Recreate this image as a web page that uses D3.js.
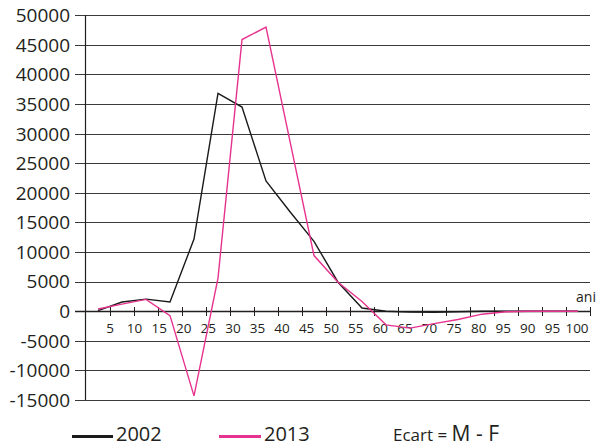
<!DOCTYPE html>
<html><head><meta charset="utf-8">
<script src="https://cdn.jsdelivr.net/npm/d3@7"></script>
<style>body{margin:0;background:#fff}svg{display:block}text{font-family:"Open Sans",sans-serif;fill:#231f20}</style>
</head><body>
<script>
const ageLabels = ["5","10","15","20","25","30","35","40","45","50","55","60","65","70","75","80","95","90","95","100"];
const groups = d3.range(21);
const s2002 = [100,1550,2050,1550,12200,36800,34500,22000,16800,11800,4900,550,0,-150,-200,-100,0,0,0,0,0];
const s2013 = [370,1200,2000,-750,-14300,5600,45900,48000,28700,9400,4900,1650,-2300,-2850,-2100,-1400,-500,-100,0,0,0];
const yTicks = [50000,45000,40000,35000,30000,25000,20000,15000,10000,5000,0,-5000,-10000,-15000];
const seriesNames = ["2002","2013"];
const colors = ["#1a1a1a","#e6338f"];

const W=598,H=447;
const svg=d3.select("body").append("svg").attr("width",W).attr("height",H);
const y=d3.scaleLinear().domain([-15000,50000]).range([400,15.3]);
const x=d3.scaleBand().domain(groups).range([86,590]).padding(0);
const xl=d3.scalePoint().domain(d3.range(ageLabels.length)).range([110,577]);

// gridlines
svg.append("g").selectAll("line").data(yTicks.filter(d=>d!==0)).join("line")
  .attr("x1",75).attr("x2",590).attr("y1",d=>Math.round(y(d))+0.5).attr("y2",d=>Math.round(y(d))+0.5)
  .attr("stroke","#3a3a3a").attr("stroke-width",1);
// y labels
svg.append("g").selectAll("text").data(yTicks).join("text")
  .attr("x",70).attr("y",d=>y(d)).attr("dy","0.36em").attr("text-anchor","end")
  .attr("font-size",19).text(d=>d);
// y axis
svg.append("line").attr("x1",85.5).attr("x2",85.5).attr("y1",y(50000)).attr("y2",y(-15000)).attr("stroke","#231f20").attr("stroke-width",1.2);
// zero axis
const y0=Math.round(y(0))+0.5;
svg.append("line").attr("x1",75).attr("x2",590).attr("y1",y0).attr("y2",y0).attr("stroke","#231f20").attr("stroke-width",1.3);
const bounds=groups.slice(1).map(i=>x(i)).concat([x.range()[1]]);
svg.append("g").selectAll("line").data(bounds).join("line")
  .attr("x1",d=>Math.round(d)+0.5).attr("x2",d=>Math.round(d)+0.5).attr("y1",y0-4.5).attr("y2",y0+4.5)
  .attr("stroke","#231f20").attr("stroke-width",1);
svg.append("g").selectAll("text").data(ageLabels).join("text")
  .attr("x",(d,i)=>xl(i)).attr("y",333).attr("text-anchor","middle").attr("font-size",13.5).text(d=>d);
svg.append("text").attr("x",596).attr("y",302).attr("text-anchor","end").attr("font-size",14).text("ani");

// lines
const line=d3.line().x((d,i)=>x(i)+x.bandwidth()/2).y(d=>y(d));
[s2002,s2013].forEach((s,k)=>{
  svg.append("path").datum(s).attr("d",line).attr("fill","none").attr("stroke",colors[k]).attr("stroke-width",1.4).attr("stroke-linejoin","miter");
});

// legend
const leg=[{x1:72,x2:113,tx:116},{x1:219,x2:261,tx:264}];
leg.forEach((l,k)=>{
  svg.append("line").attr("x1",l.x1).attr("x2",l.x2).attr("y1",436.5).attr("y2",436.5).attr("stroke",colors[k]).attr("stroke-width",3);
  svg.append("text").attr("x",l.tx).attr("y",441).attr("font-size",20).text(seriesNames[k]);
});
const et=svg.append("text").attr("x",393).attr("y",441);
et.append("tspan").attr("font-size",17).text("Ecart = ");
et.append("tspan").attr("font-size",21).text("M - F");
</script>
</body></html>
